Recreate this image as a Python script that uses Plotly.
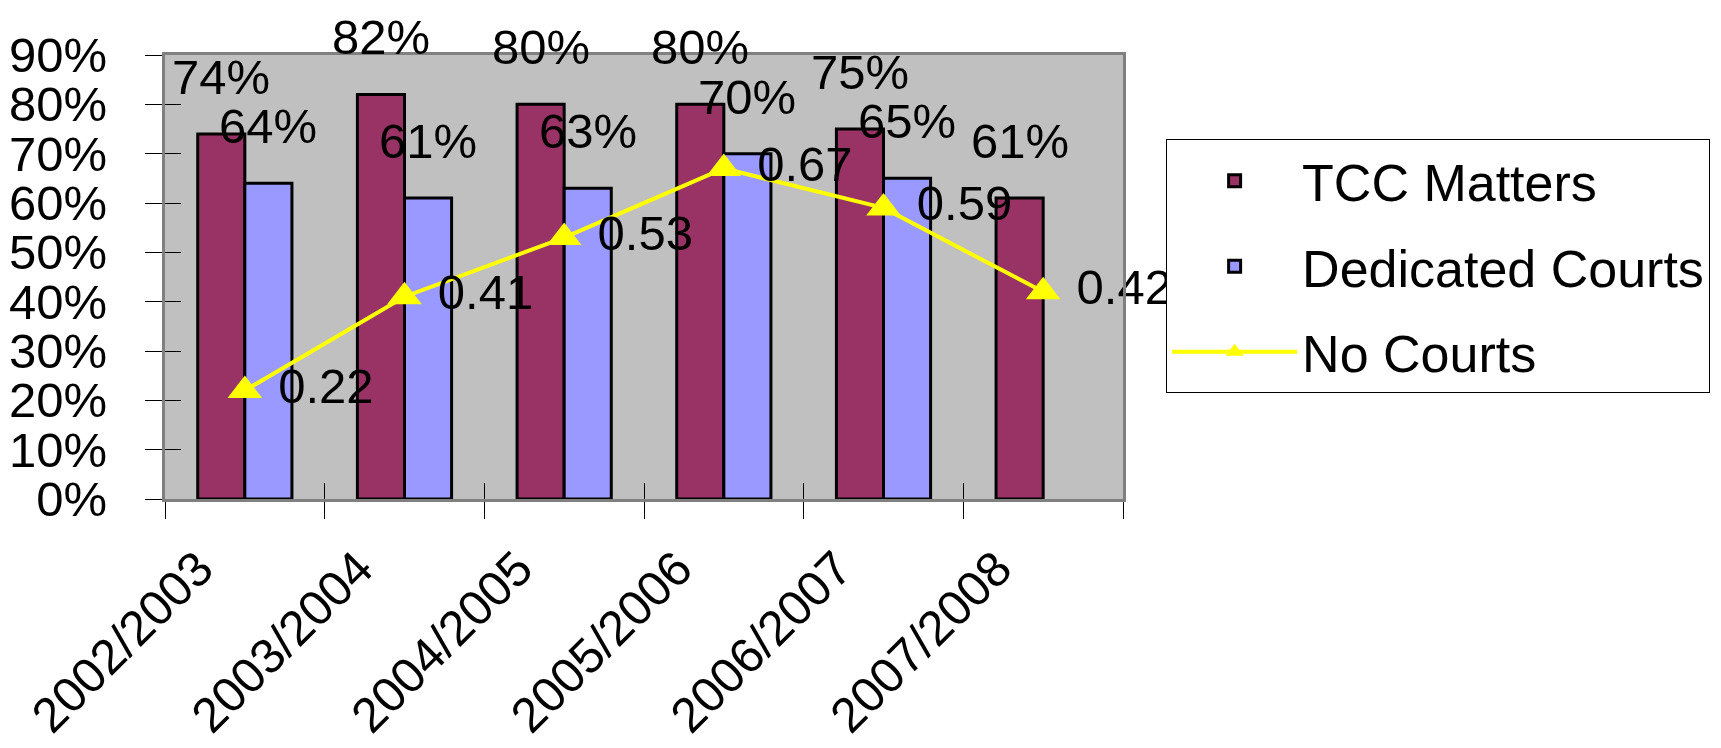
import plotly.graph_objects as go

categories = ["2002/2003", "2003/2004", "2004/2005", "2005/2006", "2006/2007", "2007/2008"]
tcc_matters = [0.74, 0.82, 0.80, 0.80, 0.75, 0.61]
dedicated_courts = [0.64, 0.61, 0.63, 0.70, 0.65, None]
no_courts = [0.22, 0.41, 0.53, 0.67, 0.59, 0.42]
y_ticks = [0, 0.1, 0.2, 0.3, 0.4, 0.5, 0.6, 0.7, 0.8, 0.9]

FONT = "Liberation Sans, Arial, sans-serif"
FS = 49

fig = go.Figure()
fig.add_trace(go.Bar(
    x=categories, y=tcc_matters, name="TCC Matters",
    marker=dict(color="#993366", line=dict(color="black", width=3)),
    legendgroup="a",
))
fig.add_trace(go.Bar(
    x=categories, y=dedicated_courts, name="Dedicated Courts",
    marker=dict(color="#9999FF", line=dict(color="black", width=3)),
    legendgroup="b",
))
fig.add_trace(go.Scatter(
    x=categories, y=no_courts, name="No Courts", mode="lines+markers+text",
    line=dict(color="#FFFF00", width=4),
    marker=dict(symbol="triangle-up", size=30, color="#FFFF00"),
    text=[f" {v:.2f}" for v in no_courts], textposition="middle right",
    textfont=dict(size=FS, color="black", family=FONT),
    cliponaxis=False, legendgroup="c",
))
# empty helper trace so the overlay axes (inner halves of the crossing ticks) are drawn
fig.add_trace(go.Scatter(x=[None], y=[None], xaxis="x2", yaxis="y2", mode="markers",
                         showlegend=False, hoverinfo="skip"))

# bar value labels (above each bar, lifted)
plot_w = 1721 - 157 - 606
cat_w = plot_w / len(categories)
bargap = 0.41
bar_w = cat_w * (1 - bargap) / 2
for i, c in enumerate(categories):
    for vals, sh in ((tcc_matters, -bar_w / 2), (dedicated_courts, bar_w / 2)):
        v = vals[i]
        if v is None:
            continue
        fig.add_annotation(x=c, y=v, text=f"{v:.0%}", showarrow=False,
                           xanchor="center", yanchor="bottom", xshift=sh, yshift=28,
                           font=dict(size=FS, color="black", family=FONT))

n = len(categories)
fig.update_layout(
    width=1721, height=748,
    margin=dict(l=157, r=606, t=47, b=257, autoexpand=False),
    paper_bgcolor="white", plot_bgcolor="#C0C0C0",
    barmode="group", bargap=bargap, bargroupgap=0,
    font=dict(family=FONT, size=FS, color="black"),
    showlegend=True,
    legend=dict(x=1.045, y=0.81, xanchor="left", yanchor="top",
                bgcolor="white", bordercolor="black", borderwidth=1,
                font=dict(size=52, family=FONT, color="black"),
                traceorder="grouped", tracegroupgap=15, itemwidth=125),
    xaxis=dict(
        type="category", tickson="boundaries", ticks="outside", ticklen=17, tickcolor="black",
        tickangle=-45, showline=True, linecolor="#808080", linewidth=3, mirror=True,
        showgrid=False, tickfont=dict(size=FS, family=FONT, color="black"),
        ticklabelstandoff=18, ticklabelshift=-46, automargin=False,
    ),
    yaxis=dict(
        range=[0, 0.9], tickvals=y_ticks, tickformat=".0%", ticks="outside", ticklen=17,
        tickcolor="black", showline=True, linecolor="#808080", linewidth=3, mirror=True,
        showgrid=False, zeroline=False, tickfont=dict(size=FS, family=FONT, color="black"),
        ticklabelstandoff=28, automargin=False,
    ),
    xaxis2=dict(overlaying="x", anchor="y", side="bottom", range=[-0.5, n - 0.5],
                tickvals=[i - 0.5 for i in range(n + 1)], ticks="inside", ticklen=16,
                tickcolor="black", showticklabels=False, showgrid=False, zeroline=False,
                showline=False, automargin=False, fixedrange=True),
    yaxis2=dict(overlaying="y", anchor="x", side="left", range=[0, 0.9], tickvals=y_ticks,
                ticks="inside", ticklen=16, tickcolor="black", showticklabels=False,
                showgrid=False, zeroline=False, showline=False, automargin=False,
                fixedrange=True),
)
fig.write_html("out.html")
